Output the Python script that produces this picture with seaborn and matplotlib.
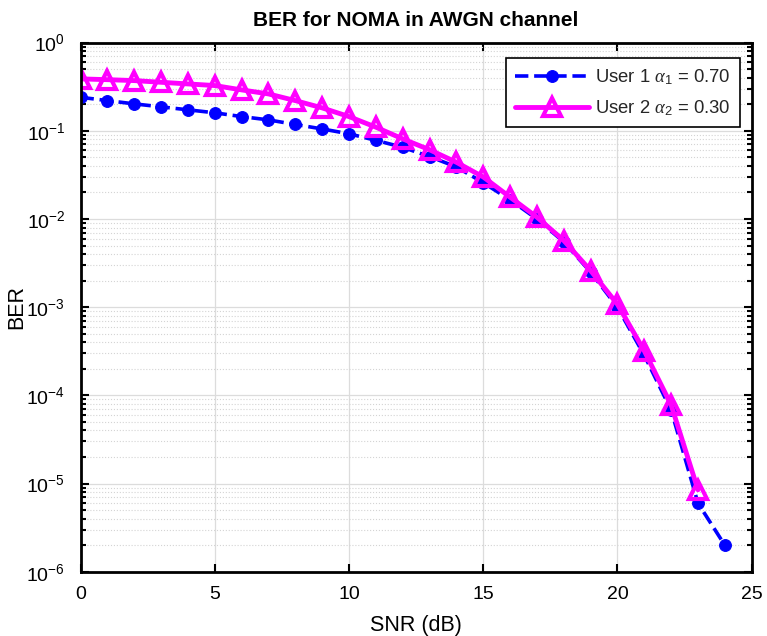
import numpy as np
import pandas as pd
import matplotlib
matplotlib.use("Agg")
import matplotlib.pyplot as plt
import seaborn as sns

# Data
snr_user1 = list(range(0, 25))
ber_user1 = [0.24, 0.22, 0.202, 0.187, 0.173, 0.16, 0.145, 0.133, 0.118, 0.105,
             0.0925, 0.078, 0.065, 0.051, 0.039, 0.0258, 0.0165, 0.010, 0.0055,
             0.0025, 0.001, 2.85e-4, 6.8e-5, 6.0e-6, 2.0e-6]

snr_user2 = list(range(0, 24))
ber_user2 = [0.388, 0.38, 0.371, 0.355, 0.34, 0.326, 0.291, 0.262, 0.22, 0.182,
             0.145, 0.11, 0.081, 0.061, 0.044, 0.030, 0.0177, 0.0105, 0.0057,
             0.0026, 0.00108, 3.2e-4, 7.8e-5, 8.5e-6]

label_user1 = r"User 1 $\alpha_1$ = 0.70"
label_user2 = r"User 2 $\alpha_2$ = 0.30"

sns.set_style("ticks")
plt.rcParams["font.family"] = ["Liberation Sans", "DejaVu Sans"]
plt.rcParams["mathtext.fontset"] = "custom"
plt.rcParams["mathtext.it"] = "Liberation Serif:italic"
plt.rcParams["mathtext.rm"] = "Liberation Sans"
plt.rcParams["axes.unicode_minus"] = False

fig = plt.figure(figsize=(7.67, 6.36), dpi=100)
ax = fig.add_axes([0.105, 0.101, 0.875, 0.832])

sns.lineplot(
    x=snr_user1,
    y=ber_user1,
    ax=ax,
    color="#0000ff",
    linestyle="--",
    linewidth=2.6,
    marker="o",
    markersize=8.5,
    markerfacecolor="#0000ff",
    markeredgecolor="#0000ff",
    label=label_user1
)

sns.lineplot(
    x=snr_user2,
    y=ber_user2,
    ax=ax,
    color="#ff00ff",
    linestyle="-",
    linewidth=3.5,
    marker="^",
    markersize=13,
    markerfacecolor="none",
    markeredgecolor="#ff00ff",
    markeredgewidth=3,
    label=label_user2
)

ax.set_yscale("log")
ax.set_xlim(0, 25)
ax.set_ylim(1e-6, 1e0)
ax.set_xticks([0, 5, 10, 15, 20, 25])

ax.grid(True, which="major", color="#dcdcdc", linewidth=0.9)
ax.grid(True, which="minor", color="#d4d4d4", linestyle=":", linewidth=0.8)
ax.set_axisbelow(True)

for side in ["top", "right", "bottom", "left"]:
    ax.spines[side].set_visible(True)
    ax.spines[side].set_linewidth(2)
    ax.spines[side].set_color("black")

ax.tick_params(which="both", direction="in", top=True, right=True,
               labelsize=14, colors="black", width=1.5)
ax.tick_params(which="major", length=6)
ax.tick_params(which="minor", length=3.5)
ax.tick_params(axis="x", which="major", pad=10)
ax.tick_params(axis="y", which="major", pad=11)

ax.set_title("BER for NOMA in AWGN channel", fontsize=15, fontweight="bold",
             color="black", pad=12)
ax.set_xlabel("SNR (dB)", fontsize=15.5, color="black", labelpad=9)
ax.set_ylabel("BER", fontsize=15.5, color="black")
ax.yaxis.set_label_coords(-0.079, 0.5)

leg = ax.legend(loc="upper right", fontsize=13.3, frameon=True, fancybox=False,
                edgecolor="black", framealpha=1, handlelength=4.0,
                handletextpad=0.3, bbox_to_anchor=(0.982, 0.971),
                borderaxespad=0, borderpad=0.5, labelspacing=0.6)
leg.get_frame().set_linewidth(1.2)

plt.savefig("out.png", dpi=100)
plt.close()
